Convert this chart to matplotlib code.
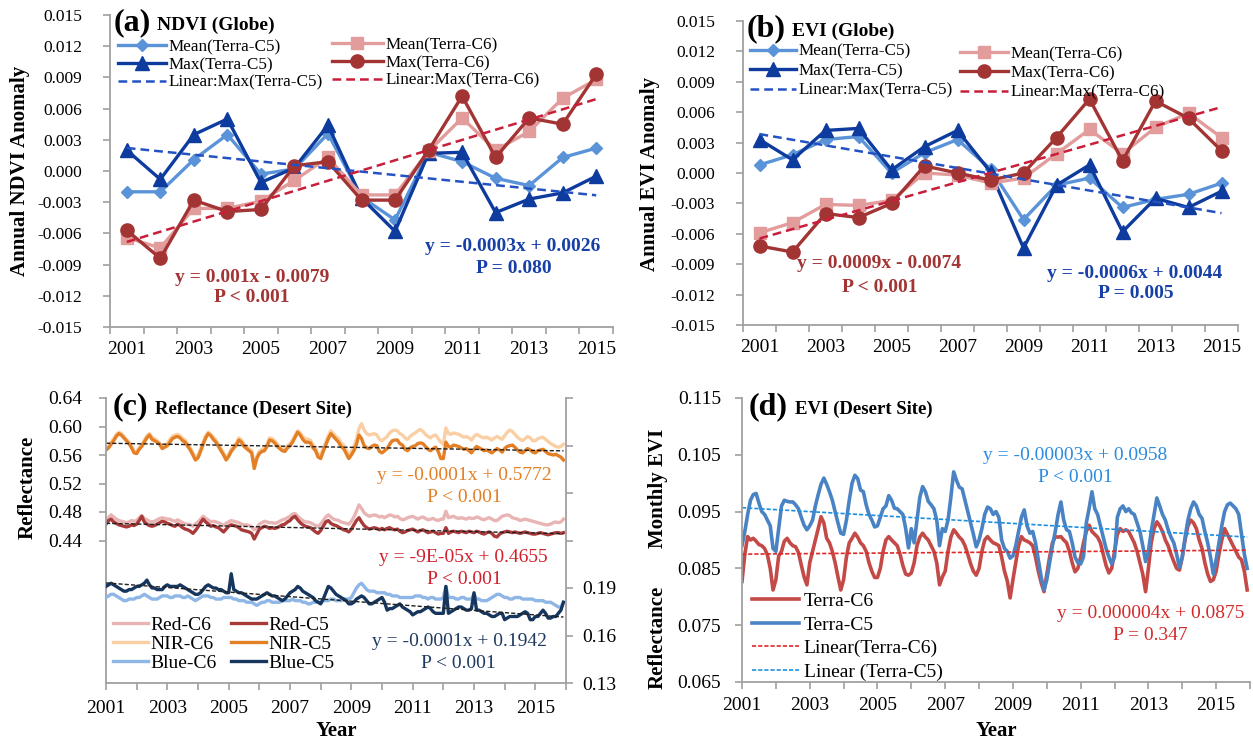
import numpy as np
import matplotlib
matplotlib.use("Agg")
import matplotlib.pyplot as plt

plt.rcParams['font.family'] = ['Liberation Serif', 'DejaVu Serif']
plt.rcParams['axes.unicode_minus'] = False

# ---------------- annual anomalies (panels a, b) ----------------
years = list(range(2001, 2016))

ndvi_mean_c5 = [-0.0020, -0.0020, 0.0011, 0.0035, -0.0003, 0.0002, 0.0036, -0.0025,
                -0.0047, 0.0018, 0.0009, -0.0007, -0.0014, 0.0013, 0.0022]
ndvi_max_c5 = [0.0020, -0.0008, 0.0035, 0.0050, -0.0011, 0.0003, 0.0044, -0.0026,
               -0.0058, 0.0017, 0.0018, -0.0040, -0.0027, -0.0021, -0.0005]
ndvi_mean_c6 = [-0.0064, -0.0074, -0.0036, -0.0036, -0.0029, -0.0009, 0.0013, -0.0023,
                -0.0023, 0.0019, 0.0051, 0.0020, 0.0038, 0.0070, 0.0088]
ndvi_max_c6 = [-0.0057, -0.0084, -0.0028, -0.0039, -0.0037, 0.0005, 0.0009, -0.0028,
               -0.0028, 0.0020, 0.0072, 0.0013, 0.0051, 0.0045, 0.0093]

evi_mean_c5 = [0.0008, 0.0018, 0.0033, 0.0036, 0.0000, 0.0020, 0.0033, 0.0004,
               -0.0046, -0.0012, -0.0005, -0.0034, -0.0026, -0.0021, -0.0010]
evi_max_c5 = [0.0033, 0.0013, 0.0042, 0.0044, 0.0003, 0.0026, 0.0042, 0.0001,
              -0.0074, -0.0012, 0.0008, -0.0058, -0.0025, -0.0034, -0.0018]
evi_mean_c6 = [-0.0059, -0.0049, -0.0031, -0.0032, -0.0027, 0.0000, -0.0002, -0.0010,
               -0.0005, 0.0019, 0.0043, 0.0019, 0.0045, 0.0059, 0.0035]
evi_max_c6 = [-0.0072, -0.0078, -0.0040, -0.0044, -0.0030, 0.0007, 0.0000, -0.0007,
              0.0000, 0.0035, 0.0073, 0.0012, 0.0071, 0.0054, 0.0022]

# ---------------- monthly desert-site series (panels c, d), Jan 2001 - Dec 2015 ----------------
nir_c5 = [
    0.567, 0.570, 0.575, 0.580, 0.586, 0.590, 0.588, 0.584, 0.580, 0.576, 0.570, 0.563,
    0.562, 0.568, 0.572, 0.578, 0.584, 0.588, 0.582, 0.580, 0.578, 0.575, 0.569, 0.571,
    0.573, 0.578, 0.583, 0.585, 0.586, 0.584, 0.580, 0.578, 0.572, 0.567, 0.560, 0.553,
    0.556, 0.565, 0.575, 0.584, 0.590, 0.587, 0.582, 0.578, 0.572, 0.566, 0.560, 0.553,
    0.558, 0.565, 0.570, 0.574, 0.581, 0.578, 0.572, 0.569, 0.566, 0.563, 0.541, 0.555,
    0.562, 0.565, 0.566, 0.572, 0.581, 0.580, 0.577, 0.572, 0.569, 0.566, 0.565, 0.570,
    0.573, 0.578, 0.585, 0.592, 0.588, 0.582, 0.578, 0.578, 0.577, 0.570, 0.566, 0.557,
    0.555, 0.565, 0.574, 0.583, 0.590, 0.586, 0.582, 0.578, 0.572, 0.569, 0.562, 0.555,
    0.560, 0.566, 0.575, 0.588, 0.583, 0.573, 0.570, 0.569, 0.572, 0.574, 0.573, 0.565,
    0.563, 0.566, 0.569, 0.575, 0.580, 0.581, 0.581, 0.576, 0.574, 0.568, 0.566, 0.570,
    0.572, 0.573, 0.576, 0.577, 0.576, 0.572, 0.568, 0.566, 0.569, 0.571, 0.565, 0.555,
    0.555, 0.578, 0.572, 0.571, 0.574, 0.573, 0.572, 0.570, 0.568, 0.569, 0.566, 0.563,
    0.568, 0.572, 0.570, 0.568, 0.566, 0.567, 0.565, 0.563, 0.566, 0.569, 0.567, 0.564,
    0.569, 0.572, 0.573, 0.574, 0.571, 0.567, 0.564, 0.563, 0.566, 0.569, 0.567, 0.564,
    0.563, 0.566, 0.567, 0.568, 0.565, 0.562, 0.561, 0.560, 0.561, 0.559, 0.557, 0.553,
]
nir_c6 = [
    0.569, 0.572, 0.578, 0.583, 0.589, 0.592, 0.590, 0.586, 0.582, 0.578, 0.572, 0.566,
    0.565, 0.570, 0.575, 0.581, 0.587, 0.590, 0.585, 0.583, 0.580, 0.577, 0.572, 0.574,
    0.576, 0.582, 0.586, 0.588, 0.589, 0.587, 0.583, 0.581, 0.575, 0.570, 0.563, 0.557,
    0.560, 0.568, 0.578, 0.587, 0.592, 0.589, 0.585, 0.581, 0.575, 0.569, 0.563, 0.557,
    0.561, 0.568, 0.573, 0.577, 0.584, 0.581, 0.575, 0.572, 0.569, 0.566, 0.546, 0.558,
    0.565, 0.568, 0.570, 0.575, 0.584, 0.583, 0.580, 0.576, 0.572, 0.569, 0.568, 0.573,
    0.576, 0.581, 0.588, 0.594, 0.591, 0.586, 0.583, 0.582, 0.581, 0.574, 0.570, 0.561,
    0.560, 0.569, 0.578, 0.587, 0.594, 0.590, 0.586, 0.583, 0.577, 0.574, 0.567, 0.560,
    0.565, 0.572, 0.582, 0.597, 0.604, 0.595, 0.590, 0.588, 0.589, 0.590, 0.588, 0.582,
    0.580, 0.583, 0.586, 0.591, 0.594, 0.595, 0.594, 0.590, 0.588, 0.584, 0.582, 0.586,
    0.589, 0.591, 0.594, 0.596, 0.593, 0.589, 0.586, 0.584, 0.587, 0.588, 0.583, 0.578,
    0.575, 0.598, 0.590, 0.589, 0.591, 0.590, 0.589, 0.587, 0.585, 0.586, 0.584, 0.581,
    0.586, 0.589, 0.587, 0.585, 0.584, 0.585, 0.583, 0.581, 0.584, 0.586, 0.584, 0.582,
    0.587, 0.592, 0.595, 0.593, 0.589, 0.585, 0.582, 0.580, 0.583, 0.586, 0.584, 0.580,
    0.580, 0.583, 0.584, 0.585, 0.582, 0.579, 0.576, 0.574, 0.572, 0.571, 0.572, 0.575,
]
red_c5 = [
    0.463, 0.468, 0.470, 0.466, 0.464, 0.462, 0.461, 0.460, 0.459, 0.460, 0.462, 0.461,
    0.463, 0.468, 0.474, 0.466, 0.463, 0.461, 0.460, 0.461, 0.463, 0.465, 0.467, 0.466,
    0.464, 0.463, 0.461, 0.460, 0.463, 0.461, 0.458, 0.456, 0.455, 0.453, 0.450, 0.454,
    0.459, 0.465, 0.470, 0.466, 0.463, 0.460, 0.461, 0.459, 0.458, 0.455, 0.452, 0.456,
    0.460, 0.462, 0.461, 0.460, 0.458, 0.455, 0.454, 0.453, 0.452, 0.450, 0.442, 0.449,
    0.456, 0.458, 0.460, 0.459, 0.457, 0.458, 0.457, 0.458, 0.460, 0.462, 0.463, 0.466,
    0.468, 0.472, 0.474, 0.469, 0.465, 0.462, 0.460, 0.459, 0.458, 0.455, 0.452, 0.450,
    0.454, 0.460, 0.466, 0.468, 0.464, 0.462, 0.461, 0.459, 0.457, 0.455, 0.454, 0.452,
    0.456, 0.462, 0.468, 0.472, 0.466, 0.461, 0.458, 0.456, 0.457, 0.458, 0.457, 0.455,
    0.457, 0.455, 0.457, 0.458, 0.456, 0.455, 0.456, 0.453, 0.451, 0.452, 0.454, 0.455,
    0.456, 0.454, 0.452, 0.454, 0.455, 0.453, 0.451, 0.452, 0.453, 0.451, 0.449, 0.450,
    0.450, 0.458, 0.450, 0.452, 0.453, 0.452, 0.451, 0.453, 0.452, 0.451, 0.453, 0.452,
    0.451, 0.453, 0.452, 0.450, 0.449, 0.451, 0.452, 0.450, 0.446, 0.445, 0.449, 0.451,
    0.452, 0.453, 0.452, 0.451, 0.452, 0.451, 0.450, 0.451, 0.452, 0.451, 0.450, 0.449,
    0.449, 0.450, 0.451, 0.450, 0.449, 0.448, 0.449, 0.450, 0.451, 0.451, 0.450, 0.451,
]
red_c6 = [
    0.467, 0.472, 0.476, 0.473, 0.470, 0.468, 0.467, 0.466, 0.465, 0.466, 0.468, 0.467,
    0.468, 0.472, 0.475, 0.471, 0.469, 0.467, 0.466, 0.467, 0.469, 0.471, 0.472, 0.471,
    0.470, 0.470, 0.468, 0.467, 0.469, 0.467, 0.465, 0.463, 0.463, 0.462, 0.460, 0.463,
    0.466, 0.470, 0.474, 0.471, 0.469, 0.466, 0.467, 0.466, 0.465, 0.463, 0.461, 0.464,
    0.466, 0.468, 0.467, 0.466, 0.465, 0.463, 0.462, 0.462, 0.461, 0.459, 0.455, 0.458,
    0.463, 0.465, 0.467, 0.466, 0.465, 0.465, 0.464, 0.465, 0.467, 0.469, 0.470, 0.472,
    0.474, 0.477, 0.478, 0.474, 0.471, 0.468, 0.466, 0.466, 0.465, 0.463, 0.461, 0.460,
    0.463, 0.468, 0.473, 0.476, 0.473, 0.470, 0.469, 0.468, 0.466, 0.465, 0.464, 0.463,
    0.467, 0.473, 0.481, 0.490, 0.485, 0.479, 0.476, 0.474, 0.475, 0.476, 0.475, 0.473,
    0.474, 0.472, 0.474, 0.476, 0.475, 0.473, 0.474, 0.471, 0.469, 0.470, 0.472, 0.473,
    0.474, 0.472, 0.470, 0.472, 0.473, 0.471, 0.469, 0.470, 0.471, 0.469, 0.468, 0.470,
    0.470, 0.481, 0.472, 0.473, 0.474, 0.472, 0.471, 0.472, 0.471, 0.470, 0.472, 0.471,
    0.471, 0.473, 0.472, 0.470, 0.469, 0.471, 0.472, 0.470, 0.468, 0.468, 0.471, 0.474,
    0.475, 0.476, 0.475, 0.472, 0.471, 0.470, 0.468, 0.469, 0.470, 0.469, 0.468, 0.467,
    0.466, 0.465, 0.464, 0.463, 0.462, 0.462, 0.463, 0.465, 0.466, 0.465, 0.466, 0.470,
]
blue_c5 = [
    0.191, 0.192, 0.193, 0.192, 0.191, 0.190, 0.189, 0.188, 0.188, 0.189, 0.189, 0.190,
    0.191, 0.191, 0.192, 0.193, 0.195, 0.192, 0.190, 0.190, 0.189, 0.189, 0.189, 0.191,
    0.192, 0.191, 0.191, 0.191, 0.191, 0.192, 0.191, 0.190, 0.189, 0.188, 0.187, 0.186,
    0.186, 0.187, 0.189, 0.191, 0.192, 0.191, 0.190, 0.190, 0.189, 0.189, 0.188, 0.187,
    0.187, 0.199, 0.189, 0.188, 0.187, 0.187, 0.186, 0.185, 0.184, 0.183, 0.183, 0.183,
    0.184, 0.185, 0.186, 0.187, 0.186, 0.185, 0.185, 0.184, 0.183, 0.182, 0.183, 0.185,
    0.187, 0.188, 0.189, 0.191, 0.190, 0.188, 0.187, 0.186, 0.185, 0.184, 0.182, 0.181,
    0.180, 0.183, 0.187, 0.191, 0.190, 0.188, 0.186, 0.185, 0.184, 0.183, 0.182, 0.180,
    0.180, 0.181, 0.183, 0.184, 0.185, 0.184, 0.182, 0.180, 0.180, 0.181, 0.182, 0.183,
    0.184, 0.181, 0.176, 0.177, 0.177, 0.178, 0.179, 0.180, 0.178, 0.177, 0.176, 0.175,
    0.173, 0.174, 0.175, 0.175, 0.176, 0.177, 0.178, 0.177, 0.175, 0.174, 0.174, 0.174,
    0.174, 0.191, 0.174, 0.175, 0.176, 0.177, 0.178, 0.178, 0.177, 0.176, 0.176, 0.177,
    0.187, 0.176, 0.176, 0.175, 0.174, 0.174, 0.173, 0.172, 0.172, 0.173, 0.174, 0.174,
    0.170, 0.171, 0.172, 0.172, 0.172, 0.172, 0.173, 0.174, 0.175, 0.174, 0.170, 0.170,
    0.172, 0.172, 0.174, 0.176, 0.174, 0.171, 0.171, 0.172, 0.172, 0.174, 0.176, 0.181,
]
blue_c6 = [
    0.184, 0.185, 0.186, 0.186, 0.185, 0.184, 0.183, 0.182, 0.182, 0.183, 0.183, 0.183,
    0.184, 0.184, 0.185, 0.186, 0.185, 0.184, 0.183, 0.183, 0.183, 0.184, 0.185, 0.185,
    0.185, 0.184, 0.184, 0.185, 0.185, 0.185, 0.184, 0.184, 0.185, 0.184, 0.183, 0.182,
    0.183, 0.184, 0.185, 0.185, 0.185, 0.184, 0.184, 0.183, 0.183, 0.183, 0.184, 0.184,
    0.184, 0.184, 0.183, 0.183, 0.182, 0.182, 0.182, 0.181, 0.181, 0.181, 0.180, 0.179,
    0.180, 0.181, 0.181, 0.182, 0.182, 0.181, 0.181, 0.181, 0.181, 0.182, 0.182, 0.182,
    0.182, 0.183, 0.182, 0.182, 0.182, 0.181, 0.181, 0.180, 0.180, 0.181, 0.181, 0.181,
    0.181, 0.182, 0.182, 0.182, 0.183, 0.183, 0.182, 0.182, 0.182, 0.183, 0.183, 0.183,
    0.184, 0.187, 0.190, 0.192, 0.193, 0.191, 0.189, 0.188, 0.188, 0.188, 0.187, 0.187,
    0.187, 0.187, 0.186, 0.186, 0.185, 0.185, 0.185, 0.184, 0.184, 0.184, 0.184, 0.184,
    0.184, 0.185, 0.185, 0.185, 0.184, 0.184, 0.183, 0.184, 0.184, 0.183, 0.183, 0.183,
    0.184, 0.191, 0.184, 0.184, 0.184, 0.183, 0.183, 0.184, 0.184, 0.183, 0.183, 0.183,
    0.186, 0.183, 0.183, 0.182, 0.182, 0.182, 0.183, 0.184, 0.185, 0.186, 0.186, 0.185,
    0.184, 0.184, 0.183, 0.183, 0.184, 0.184, 0.184, 0.183, 0.183, 0.183, 0.183, 0.183,
    0.182, 0.182, 0.182, 0.182, 0.181, 0.181, 0.181, 0.180, 0.179, 0.178, 0.178, 0.181,
]
evi_c5 = [
    0.0890, 0.0915, 0.0945, 0.0970, 0.0980, 0.0982, 0.0965, 0.0950, 0.0945, 0.0935, 0.0925, 0.0885,
    0.0880, 0.0920, 0.0960, 0.0970, 0.0968, 0.0967, 0.0967, 0.0962, 0.0955, 0.0940, 0.0926, 0.0918,
    0.0925, 0.0935, 0.0960, 0.0980, 0.0998, 0.1009, 0.0998, 0.0985, 0.0970, 0.0950, 0.0930, 0.0912,
    0.0910, 0.0935, 0.0970, 0.1000, 0.1014, 0.1008, 0.0988, 0.0985, 0.0962, 0.0945, 0.0935, 0.0923,
    0.0925, 0.0940, 0.0955, 0.0960, 0.0978, 0.0970, 0.0956, 0.0955, 0.0950, 0.0945, 0.0920, 0.0886,
    0.0920, 0.0895, 0.0935, 0.0975, 0.0994, 0.0985, 0.0968, 0.0962, 0.0955, 0.0935, 0.0890, 0.0920,
    0.0915, 0.0935, 0.0975, 0.1020, 0.1005, 0.0993, 0.0990, 0.0970, 0.0950, 0.0930, 0.0910, 0.0888,
    0.0900, 0.0920, 0.0945, 0.0958, 0.0955, 0.0945, 0.0950, 0.0940, 0.0900, 0.0885, 0.0880, 0.0868,
    0.0872, 0.0890, 0.0915, 0.0940, 0.0953, 0.0925, 0.0912, 0.0915, 0.0895, 0.0865, 0.0835, 0.0812,
    0.0830, 0.0860, 0.0890, 0.0915, 0.0945, 0.0967, 0.0935, 0.0918, 0.0915, 0.0895, 0.0870, 0.0860,
    0.0858, 0.0870, 0.0930, 0.0956, 0.0985, 0.0955, 0.0945, 0.0925, 0.0905, 0.0885, 0.0870, 0.0858,
    0.0870, 0.0940, 0.0955, 0.0960, 0.0950, 0.0955, 0.0948, 0.0945, 0.0930, 0.0915, 0.0890, 0.0862,
    0.0880, 0.0915, 0.0945, 0.0974, 0.0960, 0.0945, 0.0935, 0.0918, 0.0905, 0.0895, 0.0875, 0.0852,
    0.0870, 0.0905, 0.0935, 0.0955, 0.0967, 0.0960, 0.0945, 0.0938, 0.0915, 0.0895, 0.0870, 0.0840,
    0.0865, 0.0895, 0.0925, 0.0950, 0.0962, 0.0965, 0.0960, 0.0955, 0.0945, 0.0910, 0.0875, 0.0850,
]
evi_c6 = [
    0.0827, 0.0875, 0.0906, 0.0900, 0.0903, 0.0898, 0.0892, 0.0890, 0.0885, 0.0874, 0.0850, 0.0812,
    0.0830, 0.0872, 0.0880, 0.0898, 0.0903, 0.0895, 0.0890, 0.0888, 0.0878, 0.0856, 0.0835, 0.0821,
    0.0860, 0.0880, 0.0900, 0.0920, 0.0941, 0.0930, 0.0903, 0.0895, 0.0880, 0.0860, 0.0835, 0.0812,
    0.0830, 0.0870, 0.0895, 0.0903, 0.0912, 0.0905, 0.0895, 0.0890, 0.0880, 0.0860, 0.0845, 0.0834,
    0.0834, 0.0850, 0.0880, 0.0900, 0.0906, 0.0900, 0.0895, 0.0890, 0.0875, 0.0855, 0.0840, 0.0838,
    0.0842, 0.0860, 0.0890, 0.0905, 0.0912, 0.0905, 0.0900, 0.0890, 0.0880, 0.0860, 0.0821, 0.0835,
    0.0845, 0.0880, 0.0905, 0.0918, 0.0912, 0.0905, 0.0900, 0.0890, 0.0875, 0.0858, 0.0845, 0.0838,
    0.0850, 0.0880, 0.0900, 0.0906, 0.0900, 0.0895, 0.0893, 0.0890, 0.0870, 0.0845, 0.0828, 0.0798,
    0.0830, 0.0860, 0.0890, 0.0906, 0.0900, 0.0898, 0.0895, 0.0890, 0.0870, 0.0845, 0.0825, 0.0809,
    0.0840, 0.0870, 0.0895, 0.0906, 0.0905, 0.0906, 0.0900, 0.0895, 0.0880, 0.0860, 0.0844, 0.0850,
    0.0870, 0.0895, 0.0915, 0.0926, 0.0915, 0.0910, 0.0905, 0.0895, 0.0875, 0.0855, 0.0842, 0.0850,
    0.0880, 0.0910, 0.0920, 0.0915, 0.0918, 0.0915, 0.0905, 0.0895, 0.0880, 0.0860, 0.0840, 0.0809,
    0.0850, 0.0895, 0.0920, 0.0932, 0.0925, 0.0915, 0.0900, 0.0890, 0.0875, 0.0862, 0.0850, 0.0847,
    0.0870, 0.0900, 0.0925, 0.0935, 0.0930, 0.0920, 0.0900, 0.0885, 0.0860, 0.0840, 0.0827, 0.0830,
    0.0845, 0.0875, 0.0900, 0.0920, 0.0910, 0.0900, 0.0890, 0.0880, 0.0870, 0.0865, 0.0845, 0.0812,
]

# ---------------- styling ----------------
W, H = 1253, 741
GRAY = '#A0A0A0'
C_MEAN5, C_MAX5, C_LIN5 = '#5B93D8', '#0D3B9E', '#2452C2'
C_MEAN6, C_MAX6, C_LIN6 = '#E29C9C', '#A33434', '#C81E3A'
EQ_RED, EQ_BLUE = '#A33434', '#1640A8'

fig = plt.figure(figsize=(W / 100, H / 100), dpi=100)


def add_ax(l, t, r, b):
    return fig.add_axes([l / W, 1 - b / H, (r - l) / W, (b - t) / H])


def ftext(x, y, s, **kw):
    kw.setdefault('ha', 'center')
    kw.setdefault('va', 'center')
    fig.text(x / W, 1 - y / H, s, **kw)


def base_style(ax):
    for s in ('top', 'right'):
        ax.spines[s].set_visible(False)
    for s in ('left', 'bottom'):
        ax.spines[s].set_color(GRAY)
        ax.spines[s].set_linewidth(1.3)
    ax.tick_params(color=GRAY, width=1.2, labelcolor='black')


def fmt3(v):
    s = f"{v:.3f}"
    return '0.000' if s == '-0.000' else s


def annual_panel(ax, mean5, max5, mean6, max6, leg_sp):
    x = np.arange(len(years))
    xf = x + 1
    h1, = ax.plot(x, mean5, color=C_MEAN5, lw=2.4, marker='D', ms=6.5, label='Mean(Terra-C5)')
    h2, = ax.plot(x, max5, color=C_MAX5, lw=2.4, marker='^', ms=10, label='Max(Terra-C5)')
    h4, = ax.plot(x, mean6, color=C_MEAN6, lw=2.4, marker='s', ms=8.5, label='Mean(Terra-C6)')
    h5, = ax.plot(x, max6, color=C_MAX6, lw=2.4, marker='o', ms=9.5, label='Max(Terra-C6)')
    k5, b5 = np.polyfit(xf, max5, 1)
    k6, b6 = np.polyfit(xf, max6, 1)
    h3, = ax.plot(x, k5 * xf + b5, color=C_LIN5, lw=1.8, dashes=(3.5, 2), label='Linear:Max(Terra-C5)')
    h6, = ax.plot(x, k6 * xf + b6, color=C_LIN6, lw=1.8, dashes=(3.5, 2), label='Linear:Max(Terra-C6)')

    ax.set_xlim(-0.5, len(years) - 0.5)
    ax.set_ylim(-0.015, 0.015)
    yt = np.linspace(-0.015, 0.015, 11)
    ax.set_yticks(yt)
    ax.set_yticklabels([fmt3(v) for v in yt], fontsize=12.5)
    ax.set_xticks(np.arange(-0.5, len(years), 1))
    ax.set_xticklabels([])
    ax.set_xticks(x[::2], minor=True)
    ax.set_xticklabels([str(y) for y in years[::2]], minor=True, fontsize=14)
    base_style(ax)
    ax.tick_params(axis='y', length=5, pad=15)
    ax.tick_params(axis='x', which='major', length=5)
    ax.tick_params(axis='x', which='minor', length=0, pad=10)

    kw = dict(frameon=False, fontsize=12.3, handletextpad=0.15, borderpad=0,
              borderaxespad=0, labelspacing=leg_sp, numpoints=1, loc='upper left')
    return (h1, h2, h3), (h4, h5, h6), kw


# ---------------- panel (a) ----------------
ax_a = add_ax(110, 15, 613, 327)
ga, gb, kw = annual_panel(ax_a, ndvi_mean_c5, ndvi_max_c5, ndvi_mean_c6, ndvi_max_c6, 0.1)
leg1 = ax_a.legend(handles=ga, bbox_to_anchor=(0.016, 0.922), handlelength=2.8, **kw)
ax_a.add_artist(leg1)
ax_a.legend(handles=gb, bbox_to_anchor=(0.441, 0.928), handlelength=3.0, **kw)
ftext(20, 171, 'Annual NDVI Anomaly', rotation=90, fontsize=15, fontweight='bold')
ftext(114, 23, '(a)', ha='left', fontsize=23, fontweight='bold')
ftext(157, 25, 'NDVI (Globe)', ha='left', fontsize=14, fontweight='bold')
ftext(252, 277, 'y = 0.001x - 0.0079', color=EQ_RED, fontsize=14, fontweight='bold')
ftext(252, 298, 'P < 0.001', color=EQ_RED, fontsize=14, fontweight='bold')
ftext(513, 247, 'y = -0.0003x + 0.0026', color=EQ_BLUE, fontsize=14, fontweight='bold')
ftext(514, 268, 'P = 0.080', color=EQ_BLUE, fontsize=14, fontweight='bold')

# ---------------- panel (b) ----------------
ax_b = add_ax(743, 21, 1238, 325)
ga, gb, kw = annual_panel(ax_b, evi_mean_c5, evi_max_c5, evi_mean_c6, evi_max_c6, 0.2)
leg1 = ax_b.legend(handles=ga, bbox_to_anchor=(0.014, 0.925), handlelength=2.7, **kw)
ax_b.add_artist(leg1)
ax_b.legend(handles=gb, bbox_to_anchor=(0.438, 0.918), handlelength=2.8, **kw)
ftext(650, 174, 'Annual EVI Anomaly', rotation=90, fontsize=15, fontweight='bold')
ftext(747, 29, '(b)', ha='left', fontsize=23, fontweight='bold')
ftext(792, 31, 'EVI (Globe)', ha='left', fontsize=14, fontweight='bold')
ftext(879, 263, 'y = 0.0009x - 0.0074', color=EQ_RED, fontsize=14, fontweight='bold')
ftext(880, 287, 'P < 0.001', color=EQ_RED, fontsize=14, fontweight='bold')
ftext(1135, 273, 'y = -0.0006x + 0.0044', color=EQ_BLUE, fontsize=14, fontweight='bold')
ftext(1136, 294, 'P = 0.005', color=EQ_BLUE, fontsize=14, fontweight='bold')

# ---------------- panel (c) ----------------
t = 2001 + np.arange(len(nir_c5)) / 12.0
mi = np.arange(1, len(nir_c5) + 1)

ax_c = add_ax(106, 398, 566, 683)
ax_c2 = ax_c.twinx()
hc1, = ax_c.plot(t, red_c6, color='#E8B4B4', lw=2.4, label='Red-C6')
hc2, = ax_c.plot(t, red_c5, color='#A83A3A', lw=2.4, label='Red-C5')
hc3, = ax_c.plot(t, nir_c6, color='#FBCFA4', lw=2.4, label='NIR-C6')
hc4, = ax_c.plot(t, nir_c5, color='#E37F25', lw=2.4, label='NIR-C5')
hc5, = ax_c2.plot(t, blue_c6, color='#8EB6E6', lw=2.4, label='Blue-C6')
hc6, = ax_c2.plot(t, blue_c5, color='#17365D', lw=2.4, label='Blue-C5')
for series, axis in ((nir_c5, ax_c), (red_c5, ax_c), (blue_c5, ax_c2)):
    k, b = np.polyfit(mi, series, 1)
    axis.plot(t, k * mi + b, color='#202020', lw=1.0, dashes=(3, 1.5))

ax_c.set_xlim(2001, 2016)
ax_c.set_ylim(0.24, 0.64)
yl = np.linspace(0.44, 0.64, 6)
ax_c.set_yticks(yl)
ax_c.set_yticklabels([f"{v:.2f}" for v in yl], fontsize=14)
ax_c2.set_ylim(0.13, 0.31)
yr = np.linspace(0.13, 0.31, 7)
ax_c2.set_yticks(yr)
ax_c2.set_yticklabels([f"{v:.2f}" if v < 0.2 else '' for v in yr], fontsize=14)
ax_c.set_xticks(np.arange(2001, 2017))
ax_c.set_xticklabels([str(y) if (y - 2001) % 2 == 0 and y < 2016 else '' for y in range(2001, 2017)],
                     fontsize=14)
base_style(ax_c)
ax_c.tick_params(axis='y', length=5, pad=12)
ax_c.tick_params(axis='x', length=5, pad=7)
for s in ('top', 'left', 'bottom'):
    ax_c2.spines[s].set_visible(False)
ax_c2.spines['right'].set_color(GRAY)
ax_c2.spines['right'].set_linewidth(1.3)
ax_c2.tick_params(axis='y', color=GRAY, width=1.2, length=5, pad=7)
ax_c.set_xlabel('Year', fontsize=15, fontweight='bold', labelpad=3)
ax_c2.legend(handles=[hc1, hc3, hc5, hc2, hc4, hc6], ncol=2, frameon=False, fontsize=14,
             handlelength=1.8, handletextpad=0.15, columnspacing=0.7, labelspacing=0.08,
             borderpad=0, borderaxespad=0, loc='upper left', bbox_to_anchor=(0.015, 0.235))
ftext(28, 487, 'Reflectance', rotation=90, fontsize=15, fontweight='bold')
ftext(113, 407, '(c)', ha='left', fontsize=23, fontweight='bold')
ftext(155, 409, 'Reflectance (Desert Site)', ha='left', fontsize=13.5, fontweight='bold')
ftext(464, 476, 'y = -0.0001x + 0.5772', color='#E37F25', fontsize=14)
ftext(464, 498, 'P < 0.001', color='#E37F25', fontsize=14)
ftext(463, 557, 'y = -9E-05x + 0.4655', color='#D0202C', fontsize=14)
ftext(464, 579, 'P < 0.001', color='#D0202C', fontsize=14)
ftext(459, 641, 'y = -0.0001x + 0.1942', color='#1F3A60', fontsize=14)
ftext(458, 663, 'P < 0.001', color='#1F3A60', fontsize=14)

# ---------------- panel (d) ----------------
ax_d = add_ax(742, 398, 1250, 682)
hd1, = ax_d.plot(t, evi_c6, color='#C44A47', lw=2.6, label='Terra-C6')
hd2, = ax_d.plot(t, evi_c5, color='#4A83C4', lw=2.6, label='Terra-C5')
k6, b6 = np.polyfit(mi, evi_c6, 1)
k5, b5 = np.polyfit(mi, evi_c5, 1)
hd3, = ax_d.plot(t, k6 * mi + b6, color='#E02828', lw=1.2, dashes=(2.5, 1.2), label='Linear(Terra-C6)')
hd4, = ax_d.plot(t, k5 * mi + b5, color='#1E8FE0', lw=1.2, dashes=(2.5, 1.2), label='Linear (Terra-C5)')
ax_d.set_xlim(2001, 2016)
ax_d.set_ylim(0.065, 0.115)
yd = np.linspace(0.065, 0.115, 6)
ax_d.set_yticks(yd)
ax_d.set_yticklabels([f"{v:.3f}" for v in yd], fontsize=14)
ax_d.set_xticks(np.arange(2001, 2017))
ax_d.set_xticklabels([str(y) if (y - 2001) % 2 == 0 and y < 2016 else '' for y in range(2001, 2017)],
                     fontsize=14)
base_style(ax_d)
ax_d.tick_params(axis='y', length=5, pad=10)
ax_d.tick_params(axis='x', length=5, pad=6)
ax_d.set_xlabel('Year', fontsize=15, fontweight='bold', labelpad=5)
ax_d.legend(handles=[hd1, hd2, hd3, hd4], frameon=False, fontsize=14, handlelength=2.4,
            handletextpad=0.25, labelspacing=0.3, borderpad=0, borderaxespad=0,
            loc='upper left', bbox_to_anchor=(0.02, 0.315))
ftext(658, 488, 'Monthly EVI', rotation=90, fontsize=15, fontweight='bold')
ftext(658, 637, 'Reflectance', rotation=90, fontsize=15, fontweight='bold')
ftext(749, 407, '(d)', ha='left', fontsize=23, fontweight='bold')
ftext(795, 409, 'EVI (Desert Site)', ha='left', fontsize=13.5, fontweight='bold')
ftext(1075, 456, 'y = -0.00003x + 0.0958', color='#2B8BE0', fontsize=14)
ftext(1075, 477, 'P < 0.001', color='#2B8BE0', fontsize=14)
ftext(1151, 613, 'y = 0.000004x + 0.0875', color='#D42A2A', fontsize=14)
ftext(1150, 636, 'P = 0.347', color='#D42A2A', fontsize=14)

fig.savefig('out.png', dpi=100)
